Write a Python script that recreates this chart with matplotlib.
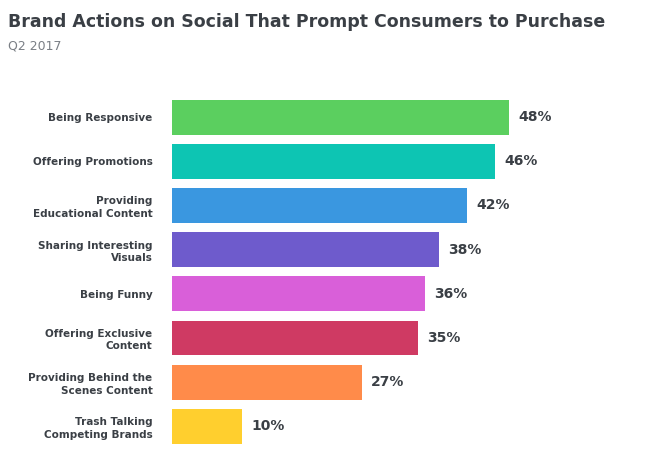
import matplotlib
matplotlib.use("Agg")
import matplotlib.pyplot as plt

categories = ["Being Responsive", "Offering Promotions", "Providing\nEducational Content",
              "Sharing Interesting\nVisuals", "Being Funny", "Offering Exclusive\nContent",
              "Providing Behind the\nScenes Content", "Trash Talking\nCompeting Brands"]
values = [48, 46, 42, 38, 36, 35, 27, 10]
colors = ["#5BCF5F", "#0DC5B3", "#3A97E0", "#6E5BCC", "#D95FD9", "#CF3A63", "#FF8B4A", "#FFCF2E"]

fig = plt.figure(figsize=(6.55, 4.66), dpi=100)
ax = fig.add_axes([172/655, 1-448/466, 1-172/655, 353/466])
y = list(range(len(values)))
ax.barh(y, values, height=0.79, color=colors)
ax.set_xlim(0, (655-172)/7.02)
ax.set_ylim(7.49, -0.5)
for yi, v in zip(y, values):
    ax.text(v + 1.3, yi, f"{v}%", va="center", ha="left", fontsize=10, fontweight="bold", color="#3a3f45")
ax.set_yticks(y)
ax.set_yticklabels(categories, fontsize=7.5, fontweight="bold", color="#3a3f45", linespacing=1.3)
ax.tick_params(axis="y", length=0, pad=14)
ax.set_xticks([])
for s in ax.spines.values():
    s.set_visible(False)
fig.text(8/655, 1-22/466, "Brand Actions on Social That Prompt Consumers to Purchase",
         fontsize=12.5, fontweight="bold", color="#3a3f45", va="center")
fig.text(8/655, 1-46/466, "Q2 2017", fontsize=9, color="#7a7f85", va="center")
fig.savefig("out.png", dpi=100)
